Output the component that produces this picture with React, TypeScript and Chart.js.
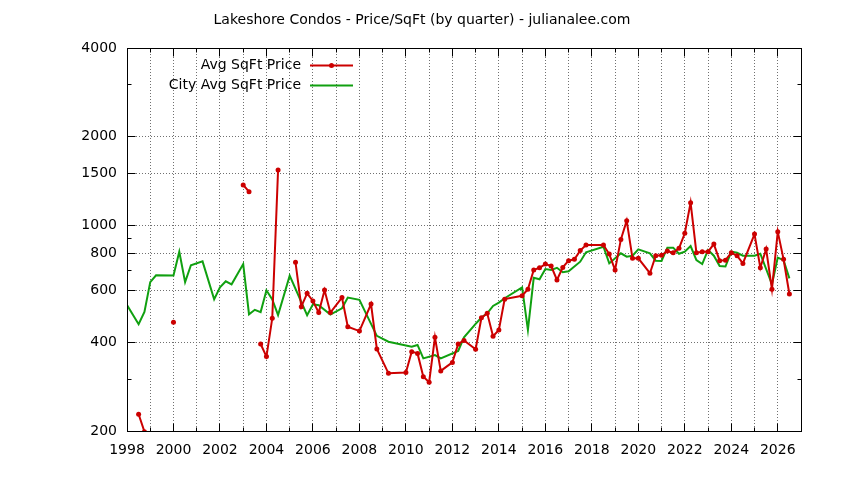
import { useEffect, useRef } from 'react';
import Chart from 'chart.js/auto';

const chartTitle = 'Lakeshore Condos - Price/SqFt (by quarter) - julianalee.com';
const avgLabel = 'Avg SqFt Price';
const cityLabel = 'City Avg SqFt Price';

// quarter as decimal year; null = no sales that quarter (breaks the line)
const avgQuarters = [
  1998.5, 1998.75, 1999.0, 2000.0, 2000.25, 2003.0, 2003.25, 2003.5, 2003.75, 2004.0,
  2004.25, 2004.5, 2004.75, 2005.25, 2005.5, 2005.75, 2006.0, 2006.25, 2006.5, 2006.75,
  2007.25, 2007.5, 2008.0, 2008.5, 2008.75, 2009.25, 2010.0, 2010.25, 2010.5, 2010.75,
  2011.0, 2011.25, 2011.5, 2012.0, 2012.25, 2012.5, 2013.0, 2013.25, 2013.5, 2013.75,
  2014.0, 2014.25, 2015.0, 2015.25, 2015.5, 2015.75, 2016.0, 2016.25, 2016.5, 2016.75,
  2017.0, 2017.25, 2017.5, 2017.75, 2018.5, 2018.75, 2019.0, 2019.25, 2019.5, 2019.75,
  2020.0, 2020.5, 2020.75, 2021.0, 2021.25, 2021.5, 2021.75, 2022.0, 2022.25, 2022.5,
  2022.75, 2023.0, 2023.25, 2023.5, 2023.75, 2024.0, 2024.25, 2024.5, 2025.0, 2025.25,
  2025.5, 2025.75, 2026.0, 2026.25, 2026.5,
];
const avgPrices: (number | null)[] = [
  228, 199, null, 468, null, 1370, 1300, null, 395, 358,
  483, 1540, null, 748, 529, 587, 553, 505, 602, 505,
  568, 452, 437, 540, 380, 314, 316, 372, 367, 306,
  293, 416, 320, 342, 395, 406, 379, 485, 502, 420,
  441, 561, 576, 606, 705, 717, 738, 727, 652, 719,
  758, 766, 820, 857, 857, 798, 705, 895, 1036, 772,
  772, 687, 788, 790, 817, 806, 835, 939, 1193, 806,
  813, 813, 863, 758, 761, 806, 788, 742, 933, 717,
  830, 606, 951, 766, 584,
];

const cityQuarters = [
  1998.0, 1998.5, 1998.75, 1999.0, 1999.25, 2000.0, 2000.25, 2000.5, 2000.75, 2001.25,
  2001.75, 2002.0, 2002.25, 2002.5, 2003.0, 2003.25, 2003.5, 2003.75, 2004.0, 2004.25,
  2004.5, 2005.0, 2005.75, 2006.0, 2006.25, 2006.75, 2007.25, 2007.5, 2008.0, 2008.75,
  2009.25, 2010.25, 2010.5, 2010.75, 2011.25, 2011.5, 2012.25, 2012.5, 2013.0, 2013.25,
  2013.5, 2013.75, 2014.0, 2014.25, 2015.0, 2015.25, 2015.5, 2015.75, 2016.0, 2016.25,
  2016.5, 2016.75, 2017.0, 2017.5, 2017.75, 2018.5, 2018.75, 2019.25, 2019.5, 2019.75,
  2020.0, 2020.5, 2020.75, 2021.0, 2021.25, 2021.5, 2021.75, 2022.0, 2022.25, 2022.5,
  2022.75, 2023.0, 2023.25, 2023.5, 2023.75, 2024.0, 2024.25, 2024.5, 2025.0, 2025.25,
  2025.75, 2026.0, 2026.25, 2026.5,
];
const cityPrices = [
  536, 461, 508, 641, 676, 675, 813, 641, 731, 754,
  560, 615, 645, 630, 738, 498, 516, 507, 601, 560,
  495, 674, 495, 539, 535, 497, 522, 568, 558, 421,
  402, 387, 392, 353, 362, 353, 374, 416, 462, 486,
  502, 532, 546, 565, 615, 441, 663, 655, 710, 705,
  717, 692, 698, 752, 809, 845, 742, 803, 782, 788,
  828, 803, 758, 756, 839, 839, 800, 813, 850, 761,
  738, 824, 788, 727, 724, 813, 806, 788, 788, 800,
  630, 776, 761, 660,
];

const xTickYears = [
  1998, 1999, 2000, 2001, 2002, 2003, 2004, 2005, 2006, 2007, 2008, 2009, 2010, 2011, 2012,
  2013, 2014, 2015, 2016, 2017, 2018, 2019, 2020, 2021, 2022, 2023, 2024, 2025, 2026, 2027,
];
const yTickValues = [200, 300, 400, 600, 700, 800, 900, 1000, 1500, 2000, 3000, 4000];
const yTickLabels = [200, 400, 600, 800, 1000, 1500, 2000, 4000];

const RED = '#cc0000';
const GREEN = '#10a010';
const GRID = '#707070';
const FONT = { family: 'DejaVu Sans', size: 14, weight: 'normal' as const };

const al = (v: number) => Math.round(v - 0.5) + 0.5;

// dotted grid (1px dots every 3px), drawn before the data lines
const gridPlugin = {
  id: 'gnuGrid',
  beforeDatasetsDraw(chart: any) {
    const { ctx, chartArea: a, scales } = chart;
    ctx.save();
    ctx.fillStyle = GRID;
    xTickYears.forEach((yr) => {
      const x = Math.round(scales.x.getPixelForValue(yr) - 0.5);
      for (let y = Math.round(a.top) + 3; y < a.bottom - 1; y += 3) ctx.fillRect(x, y, 1, 1);
    });
    yTickLabels.forEach((v) => {
      const y = Math.round(scales.y.getPixelForValue(v) - 0.5);
      for (let x = Math.round(a.left) + 3; x < a.right - 1; x += 3) ctx.fillRect(x, y, 1, 1);
    });
    ctx.restore();
  },
};

// gnuplot style: closed border with inward tics on all sides
const framePlugin = {
  id: 'gnuFrame',
  afterDraw(chart: any) {
    const { ctx, chartArea: a, scales } = chart;
    const l = al(a.left), r = al(a.right), t = al(a.top), b = al(a.bottom);
    ctx.save();
    ctx.strokeStyle = '#000';
    ctx.lineWidth = 1;
    ctx.beginPath();
    xTickYears.forEach((yr) => {
      const x = al(scales.x.getPixelForValue(yr));
      const len = yr % 2 === 0 ? 8 : 4;
      ctx.moveTo(x, b);
      ctx.lineTo(x, b - len);
      ctx.moveTo(x, t);
      ctx.lineTo(x, t + len);
    });
    yTickValues.forEach((v) => {
      const y = al(scales.y.getPixelForValue(v));
      const len = yTickLabels.includes(v) ? 8 : 4;
      ctx.moveTo(l, y);
      ctx.lineTo(l + len, y);
      ctx.moveTo(r, y);
      ctx.lineTo(r - len, y);
    });
    ctx.stroke();
    ctx.strokeRect(l, t, r - l, b - t);
    ctx.restore();
  },
};

// key in the top-left corner: right-aligned text, sample to the right
const keyPlugin = {
  id: 'gnuKey',
  afterDraw(chart: any) {
    const { ctx, chartArea: a } = chart;
    const textRight = a.left + 174;
    const sampleStart = a.left + 183;
    const sampleEnd = a.left + 226;
    chart.data.datasets.forEach((ds: any, i: number) => {
      const y = a.top + 17.5 + i * 20;
      ctx.save();
      ctx.font = '14px "DejaVu Sans"';
      ctx.fillStyle = '#000';
      ctx.textAlign = 'right';
      ctx.textBaseline = 'middle';
      ctx.fillText(ds.label, textRight, y);
      ctx.strokeStyle = ds.borderColor;
      ctx.lineWidth = ds.borderWidth;
      ctx.beginPath();
      ctx.moveTo(sampleStart, y);
      ctx.lineTo(sampleEnd, y);
      ctx.stroke();
      if (ds.pointRadius > 0) {
        ctx.fillStyle = ds.borderColor;
        ctx.beginPath();
        ctx.arc((sampleStart + sampleEnd) / 2, y, ds.pointRadius, 0, Math.PI * 2);
        ctx.fill();
      }
      ctx.restore();
    });
  },
};

const PriceChart = () => {
  const canvasRef = useRef<HTMLCanvasElement>(null);
  const chartRef = useRef<Chart | null>(null);

  useEffect(() => {
    document.body.style.margin = '0';
    if (!canvasRef.current) return;
    if (chartRef.current) chartRef.current.destroy();

    chartRef.current = new Chart(canvasRef.current, {
      type: 'line',
      data: {
        datasets: [
          {
            label: avgLabel,
            data: avgQuarters.map((q, i) => ({ x: q, y: avgPrices[i] })) as any,
            borderColor: RED,
            backgroundColor: RED,
            borderWidth: 2,
            pointRadius: 2.5,
            pointBorderWidth: 0,
            pointBackgroundColor: RED,
            spanGaps: false,
          },
          {
            label: cityLabel,
            data: cityQuarters.map((q, i) => ({ x: q, y: cityPrices[i] })),
            borderColor: GREEN,
            backgroundColor: GREEN,
            borderWidth: 2,
            pointRadius: 0,
          },
        ],
      },
      options: {
        responsive: false,
        animation: false,
        events: [],
        // equal side padding keeps the title centred on the whole canvas
        layout: { padding: { left: 43, right: 43, top: 0, bottom: 0 } },
        plugins: {
          legend: { display: false },
          tooltip: { enabled: false },
          title: {
            display: true,
            text: chartTitle,
            color: '#000',
            font: FONT,
            padding: { top: 11.6, bottom: 19.6 },
          },
        },
        scales: {
          x: {
            type: 'linear',
            min: 1998,
            max: 2027,
            afterFit: (s: any) => {
              s.height = 49;
            },
            afterBuildTicks: (s: any) => {
              s.ticks = xTickYears.map((v) => ({ value: v }));
            },
            ticks: {
              autoSkip: false,
              maxRotation: 0,
              padding: 11,
              color: '#000',
              font: FONT,
              callback: (v: any) => (Number(v) % 2 === 0 ? String(v) : ''),
            },
            grid: { display: false, drawTicks: false },
            border: { display: false },
          },
          y: {
            type: 'logarithmic',
            min: 200,
            max: 4000,
            afterFit: (s: any) => {
              s.width = 84;
            },
            afterBuildTicks: (s: any) => {
              s.ticks = yTickValues.map((v) => ({ value: v }));
            },
            ticks: {
              autoSkip: false,
              padding: 10,
              color: '#000',
              font: FONT,
              callback: (v: any) => (yTickLabels.includes(Number(v)) ? String(v) : ''),
            },
            grid: { display: false, drawTicks: false },
            border: { display: false },
          },
        },
      },
      plugins: [gridPlugin, framePlugin, keyPlugin],
    });

    return () => {
      if (chartRef.current) {
        chartRef.current.destroy();
        chartRef.current = null;
      }
    };
  }, []);

  return <canvas ref={canvasRef} width={844} height={480} style={{ display: 'block' }} />;
};

export default function App() {
  return <PriceChart />;
}
